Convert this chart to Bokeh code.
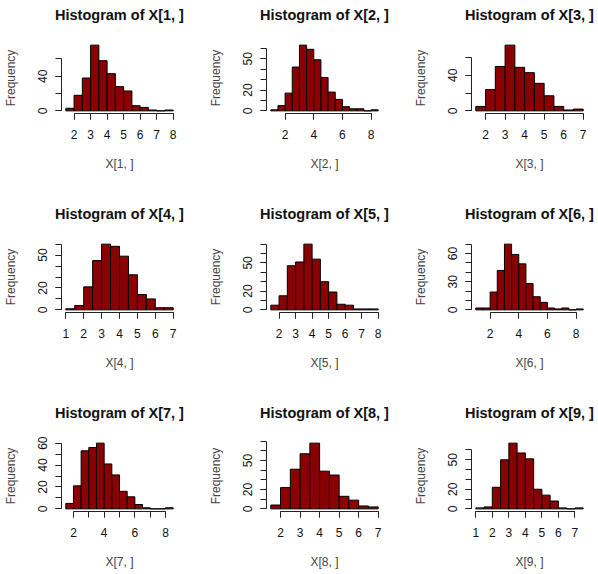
from bokeh.plotting import figure
from bokeh.layouts import gridplot
from bokeh.models import FixedTicker, Range1d, Title
from bokeh.embed import file_html
from bokeh.resources import INLINE

# ---- data ----
titles = ["Histogram of X[%d, ]" % i for i in range(1, 10)]
xlabels = ["X[%d, ]" % i for i in range(1, 10)]
ylabel = "Frequency"
bin_width = 0.5
break_starts = [1.5, 1.0, 1.5, 1.0, 1.5, 1.0, 1.5, 1.5, 1.0]

counts_1 = [3, 18, 38, 76, 58, 43, 28, 23, 6, 4, 1, 0, 1]
counts_2 = [1, 5, 17, 42, 63, 59, 49, 32, 18, 11, 4, 2, 2, 0, 1]
counts_3 = [5, 24, 50, 74, 49, 43, 31, 17, 5, 1, 2]
counts_4 = [1, 4, 21, 45, 60, 58, 49, 32, 14, 10, 2, 2]
counts_5 = [5, 15, 47, 51, 70, 54, 30, 19, 6, 5, 1, 1, 1]
counts_6 = [2, 2, 19, 42, 70, 59, 49, 28, 14, 8, 2, 1, 2, 0, 1]
counts_7 = [5, 21, 53, 56, 60, 41, 31, 16, 11, 4, 1, 0, 0, 1]
counts_8 = [4, 22, 41, 57, 68, 39, 35, 13, 9, 3, 2]
counts_9 = [1, 2, 22, 50, 67, 57, 51, 20, 14, 8, 1, 0, 1]
all_counts = [counts_1, counts_2, counts_3, counts_4, counts_5,
              counts_6, counts_7, counts_8, counts_9]

# all tick marks, and the subset of them that carry a label
x_ticks = [
    [2, 3, 4, 5, 6, 7, 8],
    [2, 4, 6, 8],
    [2, 3, 4, 5, 6, 7],
    [1, 2, 3, 4, 5, 6, 7],
    [2, 3, 4, 5, 6, 7, 8],
    [2, 4, 6, 8],
    [2, 3, 4, 5, 6, 7, 8],
    [2, 3, 4, 5, 6, 7],
    [1, 2, 3, 4, 5, 6, 7],
]
x_tick_labels_shown = [
    [2, 3, 4, 5, 6, 7, 8],
    [2, 4, 6, 8],
    [2, 3, 4, 5, 6, 7],
    [1, 2, 3, 4, 5, 6, 7],
    [2, 3, 4, 5, 6, 7, 8],
    [2, 4, 6, 8],
    [2, 4, 6, 8],
    [2, 3, 4, 5, 6, 7],
    [1, 2, 3, 4, 5, 6, 7],
]
y_ticks = [
    [0, 20, 40, 60],
    [0, 10, 20, 30, 40, 50, 60],
    [0, 20, 40, 60],
    [0, 10, 20, 30, 40, 50, 60],
    [0, 10, 20, 30, 40, 50, 60, 70],
    [0, 10, 20, 30, 40, 50, 60, 70],
    [0, 10, 20, 30, 40, 50, 60],
    [0, 10, 20, 30, 40, 50, 60, 70],
    [0, 10, 20, 30, 40, 50, 60],
]
y_tick_labels_shown = [
    [0, 40],
    [0, 20, 50],
    [0, 40],
    [0, 20, 50],
    [0, 20, 50],
    [0, 30, 60],
    [0, 20, 40, 60],
    [0, 20, 50],
    [0, 20, 50],
]

BAR_FILL = "#8B0000"
FONT = "Liberation Sans"
AXIS_COLOR = "#222222"
col_widths = [205, 205, 188]
row_heights = [199, 199, 176]
FRAME_W = 116
FRAME_H = 71
LEFT = 61
TOP = 42


def spacer(size):
    # a blank (white-on-white) title used only to reserve space in a side panel
    return Title(text=".", text_font_size="1px", text_color="white", standoff=size)


def make_panel(i):
    r, c = divmod(i, 3)
    w, h = col_widths[c], row_heights[r]
    counts = all_counts[i]
    start = break_starts[i]
    left = [start + k * bin_width for k in range(len(counts))]
    right = [start + (k + 1) * bin_width for k in range(len(counts))]
    x0, x1 = left[0], right[-1]
    xpad = 0.04 * (x1 - x0)
    ymax = max(counts)
    ypad = 0.04 * ymax

    p = figure(width=w, height=h, output_backend="svg", toolbar_location=None,
               x_range=Range1d(x0 - xpad, x1 + xpad),
               y_range=Range1d(-ypad, ymax + ypad),
               min_border_left=LEFT, min_border_right=w - LEFT - FRAME_W,
               min_border_top=TOP, min_border_bottom=h - TOP - FRAME_H)
    p.quad(left=left, right=right, bottom=0, top=counts,
           fill_color=BAR_FILL, line_color="black", line_width=1)

    p.outline_line_color = None
    p.background_fill_color = "white"
    p.border_fill_color = "white"
    p.xgrid.visible = False
    p.ygrid.visible = False

    # configure the real axes before any spacer is added
    xa = p.xaxis[0]
    ya = p.yaxis[0]
    for ax in (xa, ya):
        ax.axis_line_color = AXIS_COLOR
        ax.major_tick_line_color = AXIS_COLOR
        ax.minor_tick_line_color = AXIS_COLOR
        ax.major_tick_out = 6
        ax.major_tick_in = 0
        ax.minor_tick_out = 6
        ax.minor_tick_in = 0
        ax.major_label_text_font = FONT
        ax.major_label_text_font_size = "12px"
        ax.major_label_text_color = "#111111"

    xa.ticker = FixedTicker(ticks=x_tick_labels_shown[i], minor_ticks=x_ticks[i])
    xa.bounds = (x_ticks[i][0], x_ticks[i][-1])
    xa.major_label_standoff = 10

    ya.ticker = FixedTicker(ticks=y_tick_labels_shown[i], minor_ticks=y_ticks[i])
    ya.bounds = (y_ticks[i][0], y_ticks[i][-1])
    ya.major_label_orientation = "vertical"
    ya.major_label_standoff = 8

    p.title.text = titles[i]
    p.title.align = "center"
    p.title.text_font = FONT
    p.title.text_font_size = "14.5px"
    p.title.text_font_style = "bold"
    p.title.text_color = "#111111"
    p.title.standoff = 8
    p.add_layout(spacer(13), "above")

    # axis titles centred on the plotting region, as in R
    p.add_layout(spacer(9), "below")
    xt = Title(text=xlabels[i], align="center", text_font=FONT,
               text_font_size="12px", text_font_style="normal",
               text_color="#444444", standoff=2)
    p.add_layout(xt, "below")
    p.add_layout(spacer(14), "left")
    yt = Title(text=ylabel, align="center", text_font=FONT,
               text_font_size="12px", text_font_style="normal",
               text_color="#444444", standoff=2)
    p.add_layout(yt, "left")
    return p


panels = [make_panel(i) for i in range(9)]
grid = gridplot([panels[0:3], panels[3:6], panels[6:9]], toolbar_location=None)

open("out.html", "w").write(file_html(grid, INLINE))
